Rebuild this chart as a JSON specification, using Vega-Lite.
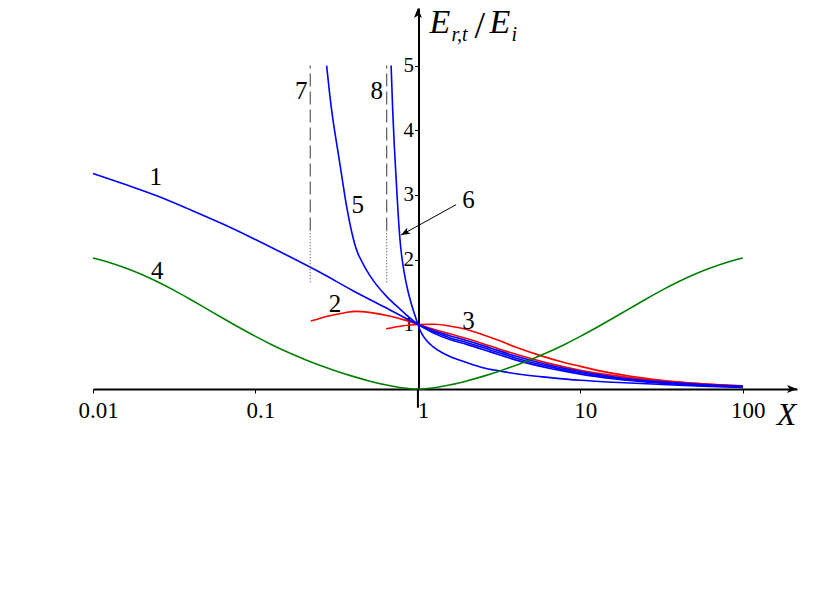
{
  "$schema": "https://vega.github.io/schema/vega-lite/v6.json",
  "width": 704,
  "height": 381,
  "autosize": {"type": "none"},
  "padding": {"left": 93, "top": 8, "right": 20, "bottom": 224},
  "background": "white",
  "config": {"view": {"stroke": null}, "axis": {"grid": false}},
  "datasets": {
    "curves": [
      {"c": "2", "X": 0.2193, "y": 1.05}, {"c": "2", "X": 0.2818, "y": 1.13}, {"c": "2", "X": 0.3548, "y": 1.18}, {"c": "2", "X": 0.4159, "y": 1.2}, {"c": "2", "X": 0.5012, "y": 1.185}, {"c": "2", "X": 0.6668, "y": 1.13}, {"c": "2", "X": 0.8318, "y": 1.065}, {"c": "2", "X": 1, "y": 1}, {"c": "2", "X": 1.2589, "y": 0.92}, {"c": "2", "X": 1.5849, "y": 0.85}, {"c": "2", "X": 1.9953, "y": 0.78}, {"c": "2", "X": 2.8184, "y": 0.66}, {"c": "2", "X": 3.981, "y": 0.54}, {"c": "2", "X": 6.3096, "y": 0.4}, {"c": "2", "X": 10, "y": 0.29}, {"c": "2", "X": 15.849, "y": 0.21}, {"c": "2", "X": 31.623, "y": 0.125}, {"c": "2", "X": 56.234, "y": 0.08}, {"c": "2", "X": 100, "y": 0.05},
      {"c": "3", "X": 0.6368, "y": 0.93}, {"c": "3", "X": 0.7943, "y": 0.975}, {"c": "3", "X": 1, "y": 0.998}, {"c": "3", "X": 1.2589, "y": 1.0}, {"c": "3", "X": 1.5849, "y": 0.97}, {"c": "3", "X": 1.9953, "y": 0.92}, {"c": "3", "X": 2.5119, "y": 0.84}, {"c": "3", "X": 3.1623, "y": 0.75}, {"c": "3", "X": 3.981, "y": 0.65}, {"c": "3", "X": 5.6234, "y": 0.52}, {"c": "3", "X": 7.943, "y": 0.41}, {"c": "3", "X": 10, "y": 0.35}, {"c": "3", "X": 13.18, "y": 0.28}, {"c": "3", "X": 19.95, "y": 0.2}, {"c": "3", "X": 31.623, "y": 0.135}, {"c": "3", "X": 56.234, "y": 0.08}, {"c": "3", "X": 100, "y": 0.045},
      {"c": "1", "X": 0.01, "y": 3.33}, {"c": "1", "X": 0.01585, "y": 3.16}, {"c": "1", "X": 0.02512, "y": 2.98}, {"c": "1", "X": 0.03981, "y": 2.77}, {"c": "1", "X": 0.0631, "y": 2.55}, {"c": "1", "X": 0.1, "y": 2.31}, {"c": "1", "X": 0.1585, "y": 2.06}, {"c": "1", "X": 0.2512, "y": 1.8}, {"c": "1", "X": 0.3981, "y": 1.52}, {"c": "1", "X": 0.631, "y": 1.26}, {"c": "1", "X": 1, "y": 1}, {"c": "1", "X": 1.2589, "y": 0.9}, {"c": "1", "X": 1.5849, "y": 0.82}, {"c": "1", "X": 1.9953, "y": 0.75}, {"c": "1", "X": 2.8184, "y": 0.63}, {"c": "1", "X": 3.981, "y": 0.51}, {"c": "1", "X": 6.3096, "y": 0.375}, {"c": "1", "X": 10, "y": 0.27}, {"c": "1", "X": 15.849, "y": 0.19}, {"c": "1", "X": 31.623, "y": 0.11}, {"c": "1", "X": 56.234, "y": 0.07}, {"c": "1", "X": 100, "y": 0.042},
      {"c": "5", "X": 0.2742, "y": 5.0}, {"c": "5", "X": 0.2851, "y": 4.6}, {"c": "5", "X": 0.2985, "y": 4.2}, {"c": "5", "X": 0.3126, "y": 3.87}, {"c": "5", "X": 0.3281, "y": 3.54}, {"c": "5", "X": 0.3443, "y": 3.2}, {"c": "5", "X": 0.3606, "y": 2.88}, {"c": "5", "X": 0.3784, "y": 2.6}, {"c": "5", "X": 0.3936, "y": 2.4}, {"c": "5", "X": 0.4074, "y": 2.25}, {"c": "5", "X": 0.4266, "y": 2.1}, {"c": "5", "X": 0.4519, "y": 1.97}, {"c": "5", "X": 0.4797, "y": 1.85}, {"c": "5", "X": 0.537, "y": 1.66}, {"c": "5", "X": 0.6368, "y": 1.44}, {"c": "5", "X": 0.7413, "y": 1.28}, {"c": "5", "X": 0.8453, "y": 1.15}, {"c": "5", "X": 1, "y": 1}, {"c": "5", "X": 1.2589, "y": 0.88}, {"c": "5", "X": 1.5849, "y": 0.79}, {"c": "5", "X": 1.9953, "y": 0.72}, {"c": "5", "X": 2.8184, "y": 0.6}, {"c": "5", "X": 3.981, "y": 0.48}, {"c": "5", "X": 6.3096, "y": 0.35}, {"c": "5", "X": 10, "y": 0.25}, {"c": "5", "X": 15.849, "y": 0.175}, {"c": "5", "X": 31.623, "y": 0.1}, {"c": "5", "X": 56.234, "y": 0.062}, {"c": "5", "X": 100, "y": 0.037},
      {"c": "b", "X": 1, "y": 1}, {"c": "b", "X": 1.2589, "y": 0.86}, {"c": "b", "X": 1.5849, "y": 0.76}, {"c": "b", "X": 1.9953, "y": 0.69}, {"c": "b", "X": 2.8184, "y": 0.57}, {"c": "b", "X": 3.981, "y": 0.45}, {"c": "b", "X": 6.3096, "y": 0.325}, {"c": "b", "X": 10, "y": 0.23}, {"c": "b", "X": 15.849, "y": 0.16}, {"c": "b", "X": 31.623, "y": 0.09}, {"c": "b", "X": 56.234, "y": 0.055}, {"c": "b", "X": 100, "y": 0.032},
      {"c": "6", "X": 0.6839, "y": 5.0}, {"c": "6", "X": 0.6998, "y": 4.3}, {"c": "6", "X": 0.7161, "y": 3.75}, {"c": "6", "X": 0.7345, "y": 3.25}, {"c": "6", "X": 0.7551, "y": 2.72}, {"c": "6", "X": 0.7762, "y": 2.3}, {"c": "6", "X": 0.826, "y": 1.78}, {"c": "6", "X": 0.871, "y": 1.5}, {"c": "6", "X": 0.9078, "y": 1.33}, {"c": "6", "X": 0.955, "y": 1.15}, {"c": "6", "X": 1, "y": 1}, {"c": "6", "X": 1.035, "y": 0.9}, {"c": "6", "X": 1.0715, "y": 0.83}, {"c": "6", "X": 1.148, "y": 0.73}, {"c": "6", "X": 1.2303, "y": 0.66}, {"c": "6", "X": 1.4125, "y": 0.56}, {"c": "6", "X": 1.5849, "y": 0.5}, {"c": "6", "X": 1.9953, "y": 0.41}, {"c": "6", "X": 2.5119, "y": 0.33}, {"c": "6", "X": 3.1623, "y": 0.28}, {"c": "6", "X": 4.4668, "y": 0.22}, {"c": "6", "X": 6.3096, "y": 0.18}, {"c": "6", "X": 10, "y": 0.135}, {"c": "6", "X": 15.849, "y": 0.105}, {"c": "6", "X": 31.623, "y": 0.07}, {"c": "6", "X": 56.234, "y": 0.045}, {"c": "6", "X": 100, "y": 0.025},
      {"c": "4", "X": 0.01, "y": 2.026}, {"c": "4", "X": 0.01259, "y": 1.956}, {"c": "4", "X": 0.01585, "y": 1.871}, {"c": "4", "X": 0.01995, "y": 1.771}, {"c": "4", "X": 0.02512, "y": 1.654}, {"c": "4", "X": 0.03162, "y": 1.524}, {"c": "4", "X": 0.03981, "y": 1.384}, {"c": "4", "X": 0.05012, "y": 1.239}, {"c": "4", "X": 0.0631, "y": 1.093}, {"c": "4", "X": 0.07943, "y": 0.95}, {"c": "4", "X": 0.1, "y": 0.813}, {"c": "4", "X": 0.1259, "y": 0.685}, {"c": "4", "X": 0.1585, "y": 0.567}, {"c": "4", "X": 0.1995, "y": 0.46}, {"c": "4", "X": 0.2512, "y": 0.363}, {"c": "4", "X": 0.3162, "y": 0.275}, {"c": "4", "X": 0.3981, "y": 0.195}, {"c": "4", "X": 0.5012, "y": 0.125}, {"c": "4", "X": 0.631, "y": 0.065}, {"c": "4", "X": 0.7943, "y": 0.02}, {"c": "4", "X": 1, "y": 0},
      {"c": "4", "X": 1.2589, "y": 0.02}, {"c": "4", "X": 1.5849, "y": 0.065}, {"c": "4", "X": 1.9953, "y": 0.125}, {"c": "4", "X": 2.5119, "y": 0.195}, {"c": "4", "X": 3.1623, "y": 0.275}, {"c": "4", "X": 3.981, "y": 0.363}, {"c": "4", "X": 5.0119, "y": 0.46}, {"c": "4", "X": 6.3096, "y": 0.567}, {"c": "4", "X": 7.943, "y": 0.685}, {"c": "4", "X": 10, "y": 0.813}, {"c": "4", "X": 12.589, "y": 0.95}, {"c": "4", "X": 15.849, "y": 1.093}, {"c": "4", "X": 19.953, "y": 1.239}, {"c": "4", "X": 25.119, "y": 1.384}, {"c": "4", "X": 31.623, "y": 1.524}, {"c": "4", "X": 39.811, "y": 1.654}, {"c": "4", "X": 50.119, "y": 1.771}, {"c": "4", "X": 63.096, "y": 1.871}, {"c": "4", "X": 79.433, "y": 1.956}, {"c": "4", "X": 100, "y": 2.026}
    ],
    "asymDash": [{"X": 0.2175, "y": 2.45, "y2": 5.0}, {"X": 0.642, "y": 2.45, "y2": 5.0}],
    "asymDot": [{"X": 0.2175, "y": 1.65, "y2": 2.45}, {"X": 0.642, "y": 1.65, "y2": 2.45}],
    "pointer": [{"X": 1.72, "y": 2.85, "X2": 0.788, "y2": 2.38}],
    "pointerHead": [{"X": 0.788, "y": 2.38}],
    "axisUp": [{"X": 1, "y": 5.89}],
    "axisRight": [{"X": 215.5, "y": 0}],
    "axisStub": [{"X": 1, "y": -0.29, "y2": 0}],
    "labels": [
      {"t": "1", "X": 0.0243, "y": 3.27},
      {"t": "4", "X": 0.0249, "y": 1.83},
      {"t": "2", "X": 0.3087, "y": 1.32},
      {"t": "3", "X": 2.047, "y": 1.045},
      {"t": "5", "X": 0.4256, "y": 2.85},
      {"t": "6", "X": 2.047, "y": 2.915},
      {"t": "7", "X": 0.1914, "y": 4.6},
      {"t": "8", "X": 0.557, "y": 4.6}
    ],
    "titleBig": [{"t": "E", "X": 1.177, "y": 5.502}, {"t": "E", "X": 2.76, "y": 5.502}],
    "titleSlash": [{"t": "/", "X": 2.23, "y": 5.42}],
    "titleSub": [{"t": "r,t", "X": 1.609, "y": 5.383}, {"t": "i", "X": 3.77, "y": 5.383}]
  },
  "layer": [
    {
      "data": {"name": "curves"},
      "mark": {"type": "line", "interpolate": "monotone", "strokeWidth": 1.6},
      "encoding": {
        "x": {
          "field": "X", "type": "quantitative",
          "scale": {"type": "log", "domain": [0.01, 215.5], "nice": false},
          "axis": {
            "values": [0.01, 0.1, 1, 10, 100], "format": "~g",
            "domainColor": "black", "domainWidth": 2,
            "tickColor": "black", "tickSize": 4, "tickWidth": 1,
            "labelFont": "Liberation Serif", "labelFontSize": 23, "labelColor": "black",
            "labelPadding": 6, "labelOffset": 5, "labelFlush": false, "labelOverlap": false,
            "title": "X", "titleFont": "Liberation Serif", "titleFontStyle": "italic", "titleFontWeight": "normal",
            "titleFontSize": 32, "titleColor": "black", "titleX": 693, "titleY": 25, "titleAlign": "center", "titleBaseline": "middle", "titleAngle": 0
          }
        },
        "y": {
          "field": "y", "type": "quantitative",
          "scale": {"domain": [0, 5.89], "nice": false, "zero": false},
          "axis": {
            "values": [1, 2, 3, 4, 5], "format": "d", "offset": -325.5,
            "domainColor": "black", "domainWidth": 2,
            "tickColor": "black", "tickSize": 4, "tickWidth": 1,
            "labelFont": "Liberation Serif", "labelFontSize": 21, "labelColor": "black", "labelPadding": 1,
            "title": null
          }
        },
        "detail": {"field": "c"},
        "color": {
          "field": "c", "type": "nominal",
          "scale": {"domain": ["1", "2", "3", "4", "5", "6", "b"], "range": ["#0000ff", "#ff0000", "#ff0000", "#008000", "#0000ff", "#0000ff", "#0000ff"]},
          "legend": null
        }
      }
    },
    {
      "data": {"name": "asymDash"},
      "mark": {"type": "rule", "color": "#666666", "strokeWidth": 1.3, "strokeDash": [13, 5]},
      "encoding": {"x": {"field": "X", "type": "quantitative"}, "y": {"field": "y", "type": "quantitative"}, "y2": {"field": "y2"}}
    },
    {
      "data": {"name": "asymDot"},
      "mark": {"type": "rule", "color": "#666666", "strokeWidth": 1.3, "strokeDash": [1, 2]},
      "encoding": {"x": {"field": "X", "type": "quantitative"}, "y": {"field": "y", "type": "quantitative"}, "y2": {"field": "y2"}}
    },
    {
      "data": {"name": "pointer"},
      "mark": {"type": "rule", "color": "black", "strokeWidth": 1},
      "encoding": {"x": {"field": "X", "type": "quantitative"}, "y": {"field": "y", "type": "quantitative"}, "x2": {"field": "X2"}, "y2": {"field": "y2"}}
    },
    {
      "data": {"name": "pointerHead"},
      "mark": {"type": "point", "shape": "M0,0L-0.4,1L0,0.75L0.4,1Z", "filled": true, "color": "black", "opacity": 1, "size": 324, "angle": 241},
      "encoding": {"x": {"field": "X", "type": "quantitative"}, "y": {"field": "y", "type": "quantitative"}}
    },
    {
      "data": {"name": "axisStub"},
      "mark": {"type": "rule", "color": "black", "strokeWidth": 2},
      "encoding": {"x": {"field": "X", "type": "quantitative"}, "y": {"field": "y", "type": "quantitative"}, "y2": {"field": "y2"}}
    },
    {
      "data": {"name": "axisUp"},
      "mark": {"type": "point", "shape": "M0,0L-0.4,1L0,0.75L0.4,1Z", "filled": true, "color": "black", "opacity": 1, "size": 400},
      "encoding": {"x": {"field": "X", "type": "quantitative"}, "y": {"field": "y", "type": "quantitative"}}
    },
    {
      "data": {"name": "axisRight"},
      "mark": {"type": "point", "shape": "M0,0L-1,-0.4L-0.75,0L-1,0.4Z", "filled": true, "color": "black", "opacity": 1, "size": 400},
      "encoding": {"x": {"field": "X", "type": "quantitative"}, "y": {"field": "y", "type": "quantitative"}}
    },
    {
      "data": {"name": "labels"},
      "mark": {"type": "text", "font": "Liberation Serif", "fontSize": 25, "color": "black", "align": "center", "baseline": "middle"},
      "encoding": {"x": {"field": "X", "type": "quantitative"}, "y": {"field": "y", "type": "quantitative"}, "text": {"field": "t"}}
    },
    {
      "data": {"name": "titleBig"},
      "mark": {"type": "text", "font": "Liberation Serif", "fontSize": 34, "fontStyle": "italic", "color": "black", "align": "left", "baseline": "alphabetic"},
      "encoding": {"x": {"field": "X", "type": "quantitative"}, "y": {"field": "y", "type": "quantitative"}, "text": {"field": "t"}}
    },
    {
      "data": {"name": "titleSlash"},
      "mark": {"type": "text", "font": "Liberation Serif", "fontSize": 38, "color": "black", "align": "left", "baseline": "alphabetic"},
      "encoding": {"x": {"field": "X", "type": "quantitative"}, "y": {"field": "y", "type": "quantitative"}, "text": {"field": "t"}}
    },
    {
      "data": {"name": "titleSub"},
      "mark": {"type": "text", "font": "Liberation Serif", "fontSize": 20, "fontStyle": "italic", "color": "black", "align": "left", "baseline": "alphabetic"},
      "encoding": {"x": {"field": "X", "type": "quantitative"}, "y": {"field": "y", "type": "quantitative"}, "text": {"field": "t"}}
    }
  ]
}
